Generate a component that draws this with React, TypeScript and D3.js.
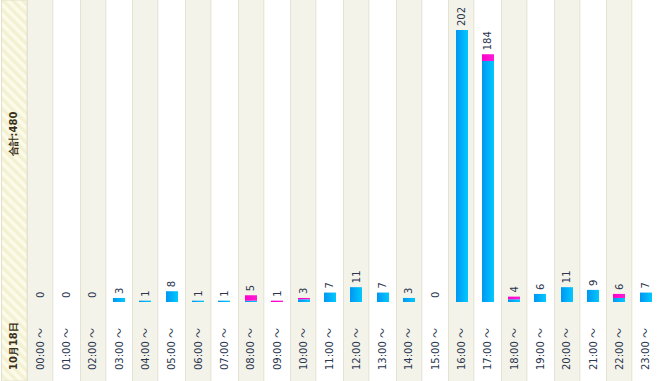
import React from "react";
import * as d3 from "d3";

const hours = ["00:00","01:00","02:00","03:00","04:00","05:00","06:00","07:00","08:00","09:00","10:00","11:00","12:00","13:00","14:00","15:00","16:00","17:00","18:00","19:00","20:00","21:00","22:00","23:00"];
const blueValues = [0,0,0,3,1,8,1,1,1,0,2,7,11,7,3,0,202,179,2,6,11,9,3,7];
const pinkValues = [0,0,0,0,0,0,0,0,4,1,1,0,0,0,0,0,0,5,2,0,0,0,3,0];
const dateLabel = "10月18日";
const totalLabel = "合計:480";

export default function App() {
  const W = 659, H = 381;
  const left = 27, baseY = 302, topY = 30;
  const totals = hours.map((_, i) => blueValues[i] + pinkValues[i]);
  const x = d3.scaleBand<string>().domain(hours).range([left, W]).paddingInner(0).paddingOuter(0);
  const y = d3.scaleLinear().domain([0, d3.max(totals) as number]).range([baseY, topY]);
  const barW = 12;
  const font = "'DejaVu Sans', Verdana, sans-serif";
  return (
    <svg width={W} height={H} style={{ position: "absolute", left: 0, top: 0, background: "#fff" }}>
      <defs>
        <pattern id="hatch" width="7" height="7" patternUnits="userSpaceOnUse" patternTransform="rotate(-45)">
          <rect width="7" height="7" fill="#fcfbea" />
          <rect width="3.5" height="7" fill="#f3f1d2" />
        </pattern>
        <linearGradient id="blueG" x1="0" x2="1" y1="0" y2="0">
          <stop offset="0" stopColor="#0096f2" />
          <stop offset="1" stopColor="#00c9ff" />
        </linearGradient>
        <linearGradient id="pinkG" x1="0" x2="1" y1="0" y2="0">
          <stop offset="0" stopColor="#ff00c8" />
          <stop offset="1" stopColor="#ff1cd4" />
        </linearGradient>
      </defs>
      <rect x={1.5} y={0} width={left - 1.5} height={H} fill="url(#hatch)" stroke="#e2e0cc" strokeWidth={1} />
      {hours.map((h, i) => {
        const x0 = x(h) as number;
        const bw = x.bandwidth();
        return i % 2 === 0 ? (
          <rect key={"c" + h} x={Math.round(x0) + 0.5} y={-1} width={bw - 1} height={H + 2} fill="#f4f3ea" stroke="#e4e2d2" strokeWidth={1} />
        ) : null;
      })}
      {hours.map((h, i) => {
        const cx = (x(h) as number) + x.bandwidth() / 2;
        const bx = Math.round(cx - barW / 2);
        const b = blueValues[i];
        const p = pinkValues[i];
        const yb = y(b);
        const yt = y(b + p);
        return (
          <g key={"b" + h}>
            {b > 0 && <rect x={bx} y={yb} width={barW} height={baseY - yb} fill="url(#blueG)" />}
            {p > 0 && <rect x={bx} y={yt} width={barW} height={yb - yt} fill="url(#pinkG)" />}
            <text transform={`translate(${cx + 3.5},${yt - 4}) rotate(-90)`} fontSize={10} fontFamily={font} fill="#2b3550" textAnchor="start">{totals[i]}</text>
            <text transform={`translate(${cx + 3.5},${370}) rotate(-90)`} fontSize={10} fontFamily={font} fill="#2b3550" textAnchor="start">
              {h + " "}
              <tspan fontFamily="'Noto Sans CJK JP', sans-serif" fontSize={10}>～</tspan>
            </text>
          </g>
        );
      })}
      <text transform={`translate(17,370) rotate(-90)`} fontSize={10} fontWeight="bold" fontFamily={font} fill="#3a3020" textAnchor="start">{dateLabel}</text>
      <text transform={`translate(17,134) rotate(-90)`} fontSize={10} fontWeight="bold" fontFamily={font} fill="#3a3020" textAnchor="middle">{totalLabel}</text>
    </svg>
  );
}
